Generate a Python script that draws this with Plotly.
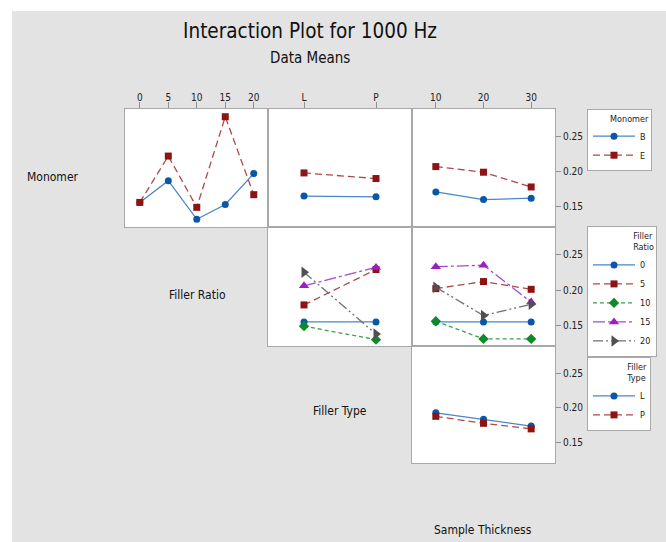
import plotly.graph_objects as go

W, H = 666, 542
FONT = "DejaVu Sans Condensed, Liberation Sans Narrow, Liberation Sans, sans-serif"

# ---------------- data ----------------
filler_ratio = [0, 5, 10, 15, 20]
filler_type = ["L", "P"]
thickness = [10, 20, 30]

# Monomer vs Filler Ratio
mono_ratio_B = [0.156, 0.187, 0.132, 0.153, 0.197]
mono_ratio_E = [0.156, 0.222, 0.149, 0.278, 0.167]
# Monomer vs Filler Type
mono_type_B = [0.165, 0.164]
mono_type_E = [0.198, 0.190]
# Monomer vs Sample Thickness
mono_thick_B = [0.171, 0.160, 0.162]
mono_thick_E = [0.207, 0.199, 0.178]

# Filler Ratio vs Filler Type
ratio_levels = ["0", "5", "10", "15", "20"]
ratio_type = {
    "0": [0.155, 0.155],
    "5": [0.179, 0.229],
    "10": [0.149, 0.130],
    "15": [0.206, 0.232],
    "20": [0.225, 0.138],
}
# Filler Ratio vs Sample Thickness
ratio_thick = {
    "0": [0.155, 0.155, 0.155],
    "5": [0.202, 0.212, 0.201],
    "10": [0.156, 0.131, 0.131],
    "15": [0.233, 0.235, 0.183],
    "20": [0.204, 0.164, 0.180],
}
# Filler Type vs Sample Thickness
type_thick_L = [0.193, 0.184, 0.174]
type_thick_P = [0.188, 0.178, 0.170]

y_ticks = [0.15, 0.20, 0.25]
y_range = [0.121, 0.289]

# ---------------- styles ----------------
BLUE = "#0A57A8"
BLUE_L = "#4A86C8"
RED = "#8E1414"
RED_L = "#B04848"
GREEN = "#0E8A2A"
PURPLE = "#9C1FC4"
GRAY = "#505050"

ratio_style = {
    "0": dict(color=BLUE, line=BLUE_L, dash="solid", symbol="circle", size=7),
    "5": dict(color=RED, line=RED_L, dash="7px,4px", symbol="square", size=7),
    "10": dict(color=GREEN, line="#3AA050", dash="4px,3px", symbol="diamond", size=8),
    "15": dict(color=PURPLE, line="#A848D0", dash="12px,3px,3px,3px", symbol="triangle-up", size=9),
    "20": dict(color=GRAY, line="#707070", dash="10px,3px,2px,3px,2px,3px", symbol="triangle-right", size=10),
}

fig = go.Figure()

def px(v):
    return v / W

def py(v):
    return 1 - v / H

xdom = {1: [px(125), px(268)], 2: [px(268), px(412)], 3: [px(412), px(555)]}
ydom = {1: [py(227), py(109)], 2: [py(346), py(227)], 3: [py(463), py(346)]}

panels = [(1, 1, 1), (2, 2, 1), (3, 3, 1), (4, 2, 2), (5, 3, 2), (6, 3, 3)]
xranges = {1: [-2.6, 22.5], 2: [-0.5, 1.5], 3: [5, 35]}
LINEC = "#A8A8A8"

layout_axes = {}
for idx, col, row in panels:
    xa = "xaxis" if idx == 1 else f"xaxis{idx}"
    ya = "yaxis" if idx == 1 else f"yaxis{idx}"
    xd = dict(domain=xdom[col], anchor=("y" if idx == 1 else f"y{idx}"),
              range=xranges[col], showgrid=False, zeroline=False,
              showline=True, mirror=True, linecolor=LINEC, linewidth=1,
              fixedrange=True)
    if col == 2:
        xd.update(type="category", categoryorder="array", categoryarray=filler_type)
    if row == 1:
        xd.update(side="top", ticks="outside", ticklen=6, tickcolor="#909090",
                  tickfont=dict(family=FONT, size=10, color="#222"), ticklabelstandoff=-3)
        if col == 1:
            xd.update(tickvals=filler_ratio)
        elif col == 3:
            xd.update(tickvals=thickness)
    else:
        xd.update(showticklabels=False, ticks="")
    yd = dict(domain=ydom[row], anchor=("x" if idx == 1 else f"x{idx}"),
              range=y_range, showgrid=False, zeroline=False,
              showline=True, mirror=True, linecolor=LINEC, linewidth=1,
              fixedrange=True)
    if col == 3:
        yd.update(side="right", ticks="outside", ticklen=5, tickcolor="#909090",
                  tickvals=y_ticks, tickformat=".2f",
                  tickfont=dict(family=FONT, size=10, color="#222"))
    else:
        yd.update(showticklabels=False, ticks="")
    layout_axes[xa] = xd
    layout_axes[ya] = yd


def add(x, y, ax, name, color, linecolor, dash, symbol, size, legend, show, group):
    xr = "x" if ax == 1 else f"x{ax}"
    yr = "y" if ax == 1 else f"y{ax}"
    fig.add_trace(go.Scatter(
        x=x, y=y, xaxis=xr, yaxis=yr, mode="lines+markers", name=name,
        line=dict(color=linecolor, width=1.3, dash=dash),
        marker=dict(color=color, symbol=symbol, size=size, line=dict(width=0)),
        legend=legend, showlegend=show, legendgroup=group, cliponaxis=False))

sB = ratio_style["0"]
sE = ratio_style["5"]
# Monomer row
add(filler_ratio, mono_ratio_B, 1, "B", BLUE, BLUE_L, "solid", "circle", sB["size"], "legend", True, "mB")
add(filler_ratio, mono_ratio_E, 1, "E", RED, RED_L, sE["dash"], "square", sE["size"], "legend", True, "mE")
add(filler_type, mono_type_B, 2, "B", BLUE, BLUE_L, "solid", "circle", sB["size"], "legend", False, "mB")
add(filler_type, mono_type_E, 2, "E", RED, RED_L, sE["dash"], "square", sE["size"], "legend", False, "mE")
add(thickness, mono_thick_B, 3, "B", BLUE, BLUE_L, "solid", "circle", sB["size"], "legend", False, "mB")
add(thickness, mono_thick_E, 3, "E", RED, RED_L, sE["dash"], "square", sE["size"], "legend", False, "mE")

# Filler Ratio row
for lv in ratio_levels:
    s = ratio_style[lv]
    add(filler_type, ratio_type[lv], 4, lv, s["color"], s["line"], s["dash"], s["symbol"], s["size"],
        "legend2", True, "r" + lv)
for lv in ratio_levels:
    s = ratio_style[lv]
    add(thickness, ratio_thick[lv], 5, lv, s["color"], s["line"], s["dash"], s["symbol"], s["size"],
        "legend2", False, "r" + lv)

# Filler Type row
add(thickness, type_thick_L, 6, "L", BLUE, BLUE_L, "solid", "circle", sB["size"], "legend3", True, "tL")
add(thickness, type_thick_P, 6, "P", RED, RED_L, sE["dash"], "square", sE["size"], "legend3", True, "tP")

leg_common = dict(bgcolor="white", bordercolor="#A8A8A8", borderwidth=1,
                  font=dict(family=FONT, size=9, color="#222"),
                  xanchor="left", yanchor="top", itemwidth=42, tracegroupgap=0,
                  itemclick=False, itemdoubleclick=False)

annotations = [
    dict(text="Interaction Plot for 1000 Hz", x=px(310), y=py(31), font=dict(family=FONT, size=20.5, color="#111")),
    dict(text="Data Means", x=px(310), y=py(58), font=dict(family=FONT, size=15, color="#111")),
    dict(text="Monomer", x=px(53), y=py(177), font=dict(family=FONT, size=12, color="#111")),
    dict(text="Filler Ratio", x=px(197), y=py(295), font=dict(family=FONT, size=12, color="#111")),
    dict(text="Filler Type", x=px(340), y=py(411), font=dict(family=FONT, size=12, color="#111")),
    dict(text="Sample Thickness", x=px(483), y=py(530), font=dict(family=FONT, size=12, color="#111")),
]
for a in annotations:
    a.update(xref="paper", yref="paper", showarrow=False, xanchor="center", yanchor="middle")

fig.update_layout(
    width=W, height=H, margin=dict(l=0, r=0, t=0, b=0),
    paper_bgcolor="#E3E3E3", plot_bgcolor="white",
    font=dict(family=FONT),
    annotations=annotations,
    shapes=[
        dict(type="rect", xref="paper", yref="paper", x0=0, x1=1, y0=py(11), y1=1,
             fillcolor="white", line=dict(width=0), layer="below"),
        dict(type="rect", xref="paper", yref="paper", x0=0, x1=px(12), y0=0, y1=1,
             fillcolor="white", line=dict(width=0), layer="below"),
    ],
    legend=dict(leg_common, x=px(587), y=py(109),
                title=dict(text="Monomer", side="top right", font=dict(family=FONT, size=9))),
    legend2=dict(leg_common, x=px(587), y=py(226),
                 title=dict(text="Filler<br>Ratio", side="top right", font=dict(family=FONT, size=9))),
    legend3=dict(leg_common, x=px(587), y=py(357),
                 title=dict(text="Filler<br>Type", side="top right", font=dict(family=FONT, size=9))),
    **layout_axes,
)

fig.write_html("out.html")
